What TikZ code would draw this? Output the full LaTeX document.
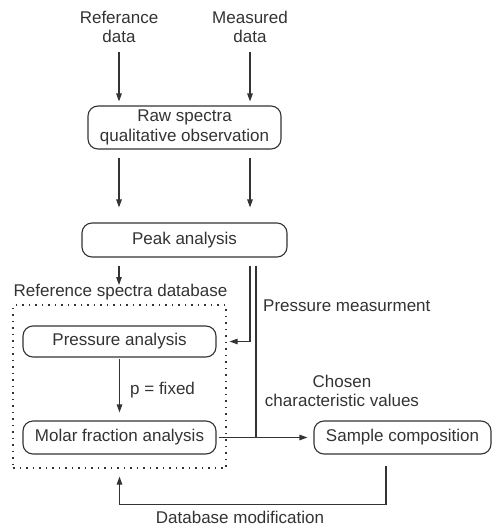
\documentclass[tikz,border=0pt]{standalone}
\usepackage{fontspec}
\setmainfont{Liberation Sans}
\usetikzlibrary{arrows.meta}
\definecolor{ink}{HTML}{333333}
\tikzset{
  lbl/.style={inner sep=0pt, align=center, text=ink, font=\fontsize{17}{19.5}\selectfont},
  box/.style={draw=ink, line width=1.1pt, rounded corners=10pt, inner sep=0pt, align=center, text=ink, font=\fontsize{17}{19.5}\selectfont},
  dbbox/.style={draw=ink, line width=1.2pt, dash pattern=on 1.5pt off 5pt, inner sep=0pt},
  conn/.style={draw=ink, line width=1.1pt},
  arr/.style={conn, -{Triangle[length=8pt,width=5.5pt]}}
}
\begin{document}
\begin{tikzpicture}[x=1pt,y=-1pt]
\useasboundingbox (0,0) rectangle (492,528);
% text labels
\node[lbl] (ref) at (119,27) {Referance\\data};
\node[lbl] (meas) at (250,27) {Measured\\data};
% boxes
\node[box, minimum width=193pt, minimum height=43pt] (raw) at (184.5,127.5) {Raw spectra\\qualitative observation};
\node[box, minimum width=205pt, minimum height=34pt] (peak) at (184.5,240) {Peak analysis};
\node[lbl] (dbt) at (120.5,292) {Reference spectra database};
\node[dbbox, minimum width=213pt, minimum height=163pt] (db) at (119.5,386.5) {};
\node[box, minimum width=193pt, minimum height=31pt] (press) at (119.5,341.5) {Pressure analysis};
\node[box, minimum width=193pt, minimum height=33pt] (molar) at (119.5,437.5) {Molar fraction analysis};
\node[box, minimum width=177pt, minimum height=33pt] (sample) at (402.5,437.5) {Sample composition};
% other labels
\node[lbl, anchor=west] (pm) at (263,306) {Pressure measurment};
\node[lbl, anchor=west] (pf) at (130,390) {p = fixed};
\node[lbl] (chosen) at (342,391) {Chosen\\characteristic values};
\node[lbl, anchor=base] (dbm) at (240,523.5) {Database modification};
\coordinate (j) at (256,437.5);
% connectors
\draw[arr] ([yshift=-25pt]ref.center) -- ([yshift=4pt]ref.center |- raw.north);
\draw[arr] ([yshift=-25pt]meas.center) -- ([yshift=4pt]meas.center |- raw.north);
\draw[arr] ([yshift=-8pt]raw.south -| ref) -- ([yshift=15pt]peak.north -| ref);
\draw[arr] ([yshift=-8pt]raw.south -| meas) -- ([yshift=15pt]peak.north -| meas);
\draw[arr] ([yshift=-8pt]peak.south -| ref) -- ([yshift=7pt]dbt.center -| ref);
\draw[arr] ([yshift=-8pt]peak.south -| meas) -- (meas |- press) -- ([xshift=3pt]db.east |- press);
\draw[conn] ([yshift=-8pt]peak.south -| j) -- (j);
\draw[arr] ([yshift=-1pt]press.south) -- ([yshift=8pt]molar.north);
\draw[arr] ([xshift=2pt]molar.east) -- ([xshift=-6pt]sample.west);
\draw[arr] ([xshift=-16.5pt,yshift=-11pt]sample.south) |- ([yshift=-36pt]db.south) -- ([yshift=-8pt]db.south);
\end{tikzpicture}
\end{document}
